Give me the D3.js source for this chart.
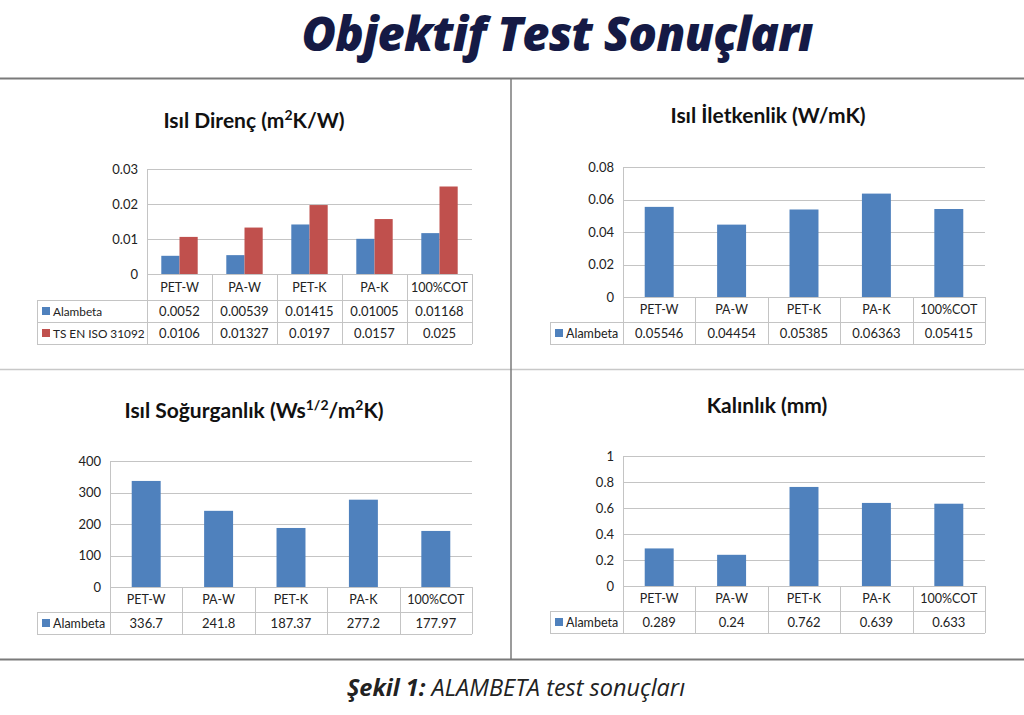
<!DOCTYPE html>
<html><head><meta charset="utf-8">
<script src="https://cdn.jsdelivr.net/npm/d3@7"></script>
<style>
html,body{margin:0;padding:0;background:#fff;}
svg{display:block;}
</style></head>
<body>
<svg id="c" width="1024" height="715"></svg>
<script>
const categories = ["PET-W","PA-W","PET-K","PA-K","100%COT"];

const direncAlambeta = [0.0052,0.00539,0.01415,0.01005,0.01168];
const direncISO = [0.0106,0.01327,0.0197,0.0157,0.025];
const direncAlambetaLabels = ["0.0052","0.00539","0.01415","0.01005","0.01168"];
const direncISOLabels = ["0.0106","0.01327","0.0197","0.0157","0.025"];
const direncTicks = [0,0.01,0.02,0.03];
const direncTickLabels = ["0","0.01","0.02","0.03"];

const iletkenlik = [0.05546,0.04454,0.05385,0.06363,0.05415];
const iletkenlikLabels = ["0.05546","0.04454","0.05385","0.06363","0.05415"];
const iletkenlikTicks = [0,0.02,0.04,0.06,0.08];
const iletkenlikTickLabels = ["0","0.02","0.04","0.06","0.08"];

const sogurganlik = [336.7,241.8,187.37,277.2,177.97];
const sogurganlikLabels = ["336.7","241.8","187.37","277.2","177.97"];
const sogurganlikTicks = [0,100,200,300,400];
const sogurganlikTickLabels = ["0","100","200","300","400"];

const kalinlik = [0.289,0.24,0.762,0.639,0.633];
const kalinlikLabels = ["0.289","0.24","0.762","0.639","0.633"];
const kalinlikTicks = [0,0.2,0.4,0.6,0.8,1];
const kalinlikTickLabels = ["0","0.2","0.4","0.6","0.8","1"];

const seriesNames = ["Alambeta","TS EN ISO 31092"];
const colors = ["#4f81bd","#c0504d"];

const svg = d3.select("#c");
const FONT = "Lato, 'Open Sans', sans-serif";

// page title
svg.append("text").attr("x",557).attr("y",51).attr("text-anchor","middle")
  .attr("font-family","'Open Sans', Lato, sans-serif").attr("font-weight",800).attr("font-style","italic")
  .attr("font-size",47).attr("fill","#151a45").attr("letter-spacing","-0.8").text("Objektif Test Sonuçları");

// frame lines
svg.append("line").attr("x1",0).attr("x2",1024).attr("y1",78.5).attr("y2",78.5).attr("stroke","#7a7a7a").attr("stroke-width",2);
svg.append("line").attr("x1",0).attr("x2",1024).attr("y1",369.5).attr("y2",369.5).attr("stroke","#c8c8c8").attr("stroke-width",1.5);
svg.append("line").attr("x1",0).attr("x2",1024).attr("y1",659.5).attr("y2",659.5).attr("stroke","#7a7a7a").attr("stroke-width",2);
svg.append("line").attr("x1",511).attr("x2",511).attr("y1",78).attr("y2",660).attr("stroke","#7a7a7a").attr("stroke-width",1.5);

// caption
const cap = svg.append("text").attr("x",516).attr("y",696).attr("text-anchor","middle")
  .attr("font-family","'Open Sans', Lato, sans-serif").attr("font-style","italic").attr("font-size",23.5).attr("fill","#222");
cap.append("tspan").attr("font-weight",700).text("Şekil 1:");
cap.append("tspan").text(" ALAMBETA test sonuçları");

function drawChart(o){
  const g = svg.append("g");
  const t = g.append("text").attr("x",o.titleX).attr("y",o.titleY).attr("text-anchor","middle")
    .attr("font-family",FONT).attr("font-weight",700).attr("font-size",21).attr("fill","#111");
  o.title.forEach(p=>{
    const ts = t.append("tspan").text(p.t);
    if(p.sup){ ts.attr("font-size",14).attr("dy",-8); }
    if(p.down){ ts.attr("dy",8); }
  });
  const x = d3.scaleBand().domain(categories).range([o.left,o.right]).padding(0);
  const y = d3.scaleLinear().domain([0,o.ticks[o.ticks.length-1]]).range([o.bottom,o.top]);
  g.append("g").selectAll("line").data(o.ticks).join("line")
    .attr("x1",o.left).attr("x2",o.right).attr("y1",d=>Math.round(y(d))+0.5).attr("y2",d=>Math.round(y(d))+0.5)
    .attr("stroke","#c4c4c4").attr("stroke-width",1);
  const ax = d3.axisLeft(y).tickValues(o.ticks).tickFormat((d,i)=>o.tickLabels[i]).tickSize(0).tickPadding(9);
  const axg = g.append("g").attr("transform",`translate(${o.left},0)`).call(ax);
  axg.select(".domain").remove();
  axg.selectAll("text").attr("font-family",FONT).attr("font-size",13).attr("fill","#222");
  const n = o.series.length;
  const x1 = d3.scaleBand().domain(d3.range(n)).range([x.bandwidth()*o.gap, x.bandwidth()*(1-o.gap)]).padding(0);
  o.series.forEach((s,si)=>{
    g.append("g").selectAll("rect").data(s.values).join("rect")
      .attr("x",(d,i)=>x(categories[i])+x1(si)).attr("width",x1.bandwidth())
      .attr("y",d=>y(d)).attr("height",d=>o.bottom-y(d)).attr("fill",colors[si]);
  });
  const lc = "#c4c4c4";
  const rowTop = o.bottom, catBottom = o.bottom + o.catH;
  const tableBottom = catBottom + n*o.rowH;
  g.append("line").attr("x1",o.left+0.5).attr("x2",o.left+0.5).attr("y1",o.top).attr("y2",tableBottom).attr("stroke",lc);
  categories.forEach(c=>{
    const xx = x(c)+x.bandwidth();
    g.append("line").attr("x1",Math.round(xx)+0.5).attr("x2",Math.round(xx)+0.5).attr("y1",rowTop).attr("y2",tableBottom).attr("stroke",lc);
  });
  for(let r=0;r<=n;r++){
    const yy = catBottom + r*o.rowH;
    g.append("line").attr("x1",o.tableLeft).attr("x2",o.right).attr("y1",Math.round(yy)+0.5).attr("y2",Math.round(yy)+0.5).attr("stroke",lc);
  }
  g.append("line").attr("x1",o.tableLeft+0.5).attr("x2",o.tableLeft+0.5).attr("y1",catBottom).attr("y2",tableBottom).attr("stroke",lc);
  g.append("g").selectAll("text").data(categories).join("text")
    .attr("x",d=>x(d)+x.bandwidth()/2).attr("y",rowTop+o.catH/2+4.5).attr("text-anchor","middle")
    .attr("font-family",FONT).attr("font-size",12.5).attr("fill","#222").text(d=>d);
  o.series.forEach((s,si)=>{
    const cy = catBottom + si*o.rowH + o.rowH/2;
    g.append("rect").attr("x",o.tableLeft+5).attr("y",cy-4).attr("width",8).attr("height",8).attr("fill",colors[si]);
    g.append("text").attr("x",o.tableLeft+16).attr("y",cy+4.5).attr("font-family",FONT).attr("font-size",o.legendSize||12.5).attr("fill","#222").text(seriesNames[si]);
    g.append("g").selectAll("text").data(s.labels).join("text")
      .attr("x",(d,i)=>x(categories[i])+x.bandwidth()/2).attr("y",cy+4.5).attr("text-anchor","middle")
      .attr("font-family",FONT).attr("font-size",13).attr("fill","#222").text(d=>d);
  });
}

drawChart({
  title:[{t:"Isıl Direnç (m"},{t:"2",sup:true},{t:"K/W)",down:true}],
  titleX:254,titleY:128,legendSize:11.8,
  left:147,right:472,top:169,bottom:274,catH:26,rowH:22,tableLeft:37,gap:0.22,
  ticks:direncTicks,tickLabels:direncTickLabels,
  series:[{values:direncAlambeta,labels:direncAlambetaLabels},{values:direncISO,labels:direncISOLabels}]
});
drawChart({
  title:[{t:"Isıl İletkenlik (W/mK)"}],
  titleX:768,titleY:123,
  left:623,right:985,top:167,bottom:297,catH:25,rowH:22,tableLeft:550,gap:0.3,
  ticks:iletkenlikTicks,tickLabels:iletkenlikTickLabels,
  series:[{values:iletkenlik,labels:iletkenlikLabels}]
});
drawChart({
  title:[{t:"Isıl Soğurganlık (Ws"},{t:"1/2",sup:true},{t:"/m",down:true},{t:"2",sup:true},{t:"K)",down:true}],
  titleX:254,titleY:418,
  left:110,right:472,top:461,bottom:587,catH:25,rowH:22,tableLeft:37,gap:0.3,
  ticks:sogurganlikTicks,tickLabels:sogurganlikTickLabels,
  series:[{values:sogurganlik,labels:sogurganlikLabels}]
});
drawChart({
  title:[{t:"Kalınlık (mm)"}],
  titleX:767,titleY:413,
  left:623,right:985,top:456,bottom:586,catH:25,rowH:22,tableLeft:550,gap:0.3,
  ticks:kalinlikTicks,tickLabels:kalinlikTickLabels,
  series:[{values:kalinlik,labels:kalinlikLabels}]
});
</script>
</body></html>
